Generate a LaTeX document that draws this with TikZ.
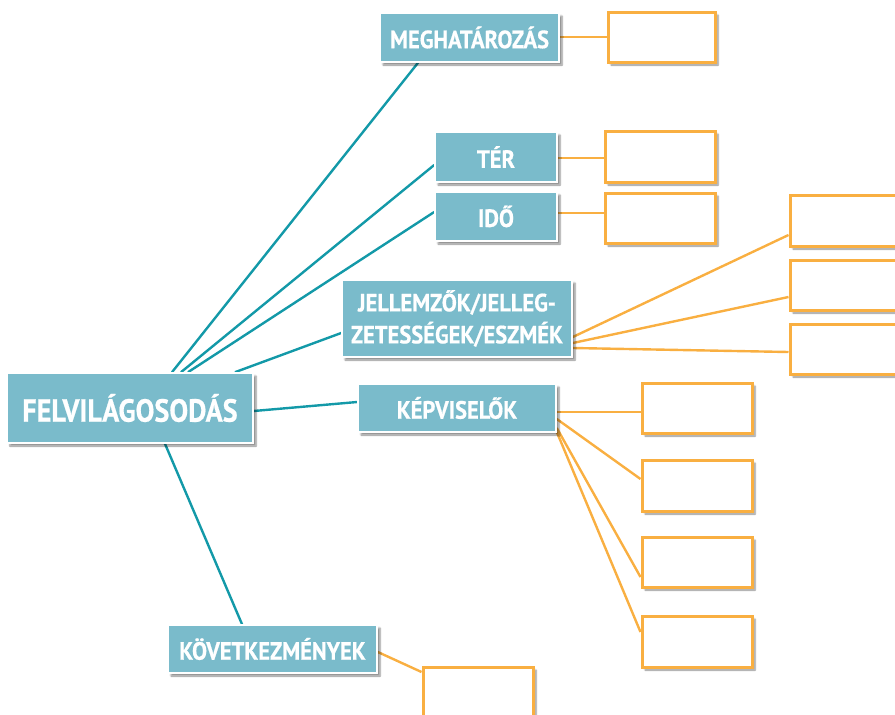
\documentclass[tikz,border=0pt]{standalone}
\usepackage{fontspec}
\newfontfamily\lblfont[FakeStretch=0.9,FakeBold=0.6]{PT Sans}
\newfontfamily\bigfont[FakeStretch=0.88,FakeBold=0.6]{PT Sans}
\usetikzlibrary{shadows,shadows.blur,backgrounds}
\definecolor{tealfill}{HTML}{7ABBCB}
\definecolor{tealline}{HTML}{1399A8}
\definecolor{orangeline}{HTML}{F9AF41}
\tikzset{
  tbox/.style={draw=white, line width=1.6pt, fill=tealfill, text=white,
    font=\lblfont\bfseries\fontsize{25}{25}\selectfont, align=center, inner sep=0pt,
    blur shadow={shadow xshift=3pt, shadow yshift=-3pt, shadow blur steps=6, shadow opacity=45}},
  obox/.style={draw=orangeline, line width=3pt, fill=white, inner sep=0pt,
    minimum width=110pt, minimum height=50pt,
    blur shadow={shadow xshift=3pt, shadow yshift=-3pt, shadow blur steps=6, shadow opacity=45}},
  tline/.style={draw=tealline, line width=2.4pt},
  oline/.style={draw=orangeline, line width=2.4pt},
}
\begin{document}
\begin{tikzpicture}[x=1pt,y=-1pt]
\path[use as bounding box, clip] (0,0) rectangle (895,715);
% teal boxes
\node[tbox, minimum width=246pt, minimum height=70pt, font=\bigfont\bfseries\fontsize{32}{32}\selectfont] (felv) at (130,408) {FELVILÁGOSODÁS};
\node[tbox, minimum width=179pt, minimum height=49pt] (megh) at (469.5,37.5) {MEGHATÁROZÁS};
\node[tbox, minimum width=122pt, minimum height=50pt] (ter) at (496,157) {TÉR};
\node[tbox, minimum width=122pt, minimum height=49pt] (ido) at (496,216.5) {IDŐ};
\node[tbox, minimum width=230pt, minimum height=77pt, font=\lblfont\bfseries\fontsize{25}{32}\selectfont] (jel) at (457,318.5) {JELLEMZŐK/JELLEG-\\ZETESSÉGEK/ESZMÉK};
\node[tbox, minimum width=198pt, minimum height=48pt] (kep) at (457,408) {KÉPVISELŐK};
\node[tbox, minimum width=209pt, minimum height=48pt] (kov) at (272.5,649) {KÖVETKEZMÉNYEK};
% orange boxes
\node[obox, minimum width=107pt] (oM) at (661.5,37) {};
\node[obox, minimum height=51pt] (oT) at (660,156.5) {};
\node[obox] (oI) at (660,218) {};
\node[obox, minimum height=51pt] (oJ1) at (845,220.5) {};
\node[obox] (oJ2) at (845,285) {};
\node[obox] (oJ3) at (845,349) {};
\node[obox] (oK1) at (697,408) {};
\node[obox, minimum height=51pt] (oK2) at (697,485.5) {};
\node[obox] (oK3) at (697,562) {};
\node[obox, minimum height=51pt] (oK4) at (697,641.5) {};
\node[obox] (oKov) at (478,692) {};
% connectors
\begin{pgfonlayer}{background}
\draw[tline] (felv.north -| 172,0) -- (megh.south -| 418,0);
\draw[tline] (felv.north -| 181,0) -- (ter.west |- 0,165);
\draw[tline] (felv.north -| 188,0) -- (ido.west |- 0,212);
\draw[tline] (felv.north -| 235,0) -- (jel.west |- 0,333);
\draw[tline] (felv.east |- 0,411) -- (kep.west |- 0,402);
\draw[tline] (felv.south -| 165,0) -- (kov.north -| 242,0);
\draw[oline] (megh.east |- 0,37) -- (oM.west |- 0,37);
\draw[oline] (ter.east |- 0,158) -- (oT.west |- 0,158);
\draw[oline] (ido.east |- 0,213) -- (oI.west |- 0,213);
\draw[oline] (jel.east |- 0,337) -- (oJ1.west |- 0,235);
\draw[oline] (jel.east |- 0,343) -- (oJ2.west |- 0,297);
\draw[oline] (jel.east |- 0,348) -- (oJ3.west |- 0,352);
\draw[oline] (kep.east |- 0,412) -- (oK1.west |- 0,412);
\draw[oline] (kep.east |- 0,419) -- (oK2.west |- 0,479);
\draw[oline] (kep.east |- 0,428) -- (oK3.west |- 0,577);
\draw[oline] (kep.east |- 0,432) -- (oK4.west |- 0,632);
\draw[oline] (kov.east |- 0,652) -- (oKov.west |- 0,672);
\end{pgfonlayer}
\end{tikzpicture}
\end{document}
